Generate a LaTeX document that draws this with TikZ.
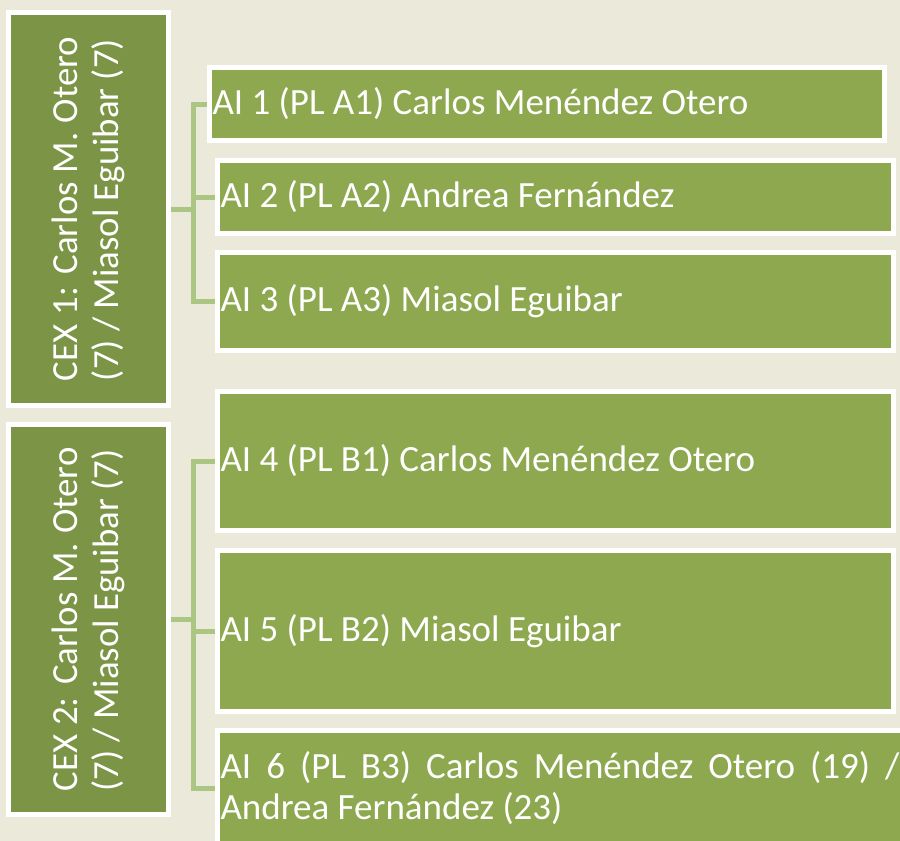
\documentclass[tikz,border=0pt]{standalone}
\usepackage{fontspec}
\setmainfont{Carlito}
\definecolor{fond}{HTML}{EBE9D9}
\definecolor{vertfonce}{HTML}{7B9446}
\definecolor{vertclair}{HTML}{8DA84F}
\definecolor{vertlien}{HTML}{ABC683}
\tolerance=10000 \hbadness=10000
\begin{document}
\begin{tikzpicture}[x=0.5pt,y=-0.5pt,
  cex/.style={fill=vertfonce, draw=white, line width=2.5pt, rotate=90, text=white,
    font=\fontsize{18.4}{20.8}\selectfont, align=justify, text width=172pt,
    minimum height=80pt, inner sep=1pt},
  boite/.style={fill=vertclair, draw=white, line width=2.5pt, text=white,
    font=\fontsize{18.5}{20.5}\selectfont, align=justify, text width=335pt,
    inner xsep=1.5pt, inner ysep=0pt},
  branche/.style={draw=vertlien, line width=2.5pt}]

\useasboundingbox (0,0) rectangle (900,841);
\clip (0,0) rectangle (900,841);
\fill[fond] (0,0) rectangle (900,841);

%% ================= CEX 1 et ses trois AI ==================================
\node[cex, minimum width=196.5pt] (cex1) at (88.5,209)
  {CEX 1: Carlos M. Otero\linebreak (7) / Miasol Eguibar (7)};
\node[boite, text width=334.5pt, minimum height=36.5pt] (ai1) at (547,104)
  {AI 1 (PL A1) Carlos Menéndez Otero};
\node[boite, minimum height=36.5pt] (ai2) at (555.5,197) {AI 2 (PL A2) Andrea Fernández};
\node[boite, minimum height=49pt]   (ai3) at (555.5,301.5) {AI 3 (PL A3) Miasol Eguibar};
\coordinate (n1) at (193,209);
\draw[branche] (cex1.south) -- (n1);
\foreach \b in {ai1,ai2,ai3} \draw[branche] (n1) |- (\b.west);

%% ================= CEX 2 et ses trois AI ==================================
\node[cex, minimum width=195pt] (cex2) at (88.5,619.5)
  {CEX 2: Carlos M. Otero\linebreak (7) / Miasol Eguibar (7)};
\node[boite, minimum height=69.5pt] (ai4) at (555.5,461) {AI 4 (PL B1) Carlos Menéndez Otero};
\node[boite, minimum height=80.5pt] (ai5) at (555.5,631) {AI 5 (PL B2) Miasol Eguibar};
\node[boite, text width=339.5pt, minimum height=58pt] (ai6) at (560,788.5)
  {AI 6 (PL B3) Carlos Menéndez Otero (19) /\linebreak Andrea Fernández (23)};
\coordinate (n2) at (193,619.5);
\draw[branche] (cex2.south) -- (n2);
\foreach \b in {ai4,ai5,ai6} \draw[branche] (n2) |- (\b.west);
\end{tikzpicture}
\end{document}
